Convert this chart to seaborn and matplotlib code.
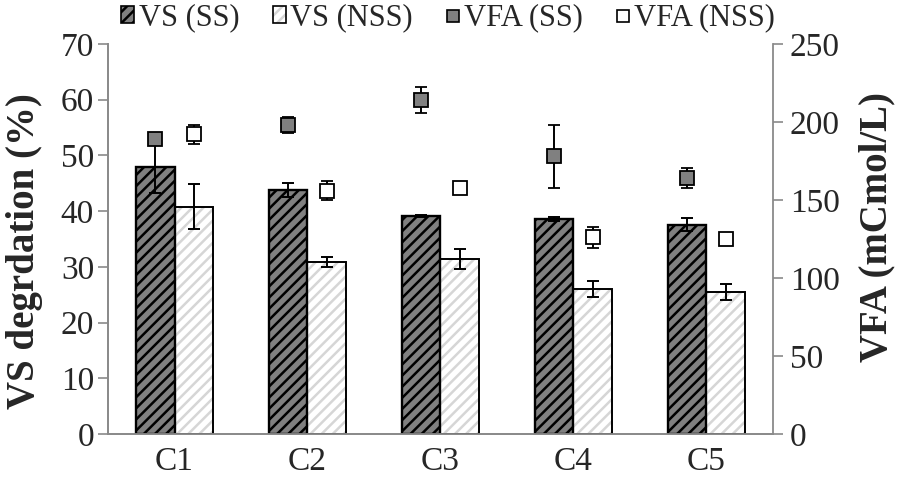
import pandas as pd
import matplotlib
matplotlib.use('Agg')
import matplotlib.pyplot as plt
import seaborn as sns
from matplotlib.patches import Patch, Rectangle
from matplotlib.lines import Line2D
from matplotlib.legend_handler import HandlerTuple

# data
cats = ['C1', 'C2', 'C3', 'C4', 'C5']
vs_ss = [48.0, 43.8, 39.1, 38.6, 37.6]
vs_ss_err = [4.8, 1.2, 0.2, 0.4, 1.1]
vs_nss = [40.8, 30.9, 31.4, 26.0, 25.5]
vs_nss_err = [4.0, 0.9, 1.8, 1.4, 1.4]
vfa_ss = [189, 198, 214, 178, 164]
vfa_ss_err = [2, 5, 8.5, 20, 6.5]
vfa_nss = [192, 156, 158, 126, 125]
vfa_nss_err = [6, 6, 1, 7, 1]

sns.set_style('white')
plt.rcParams['font.family'] = ['Liberation Serif', 'DejaVu Serif']
plt.rcParams['hatch.linewidth'] = 1.8

GRAY = '#8a8a8a'

df = pd.DataFrame({
    'cat': cats * 2,
    'val': vs_ss + vs_nss,
    'series': ['VS (SS)'] * 5 + ['VS (NSS)'] * 5,
})

fig = plt.figure(figsize=(8.98, 4.87), dpi=100)
ax = fig.add_axes([108 / 898, 53 / 487, 665 / 898, 390 / 487])

sns.barplot(data=df, x='cat', y='val', hue='series',
            palette={'VS (SS)': '#808080', 'VS (NSS)': 'white'},
            width=0.576, linewidth=0, errorbar=None, legend=False, ax=ax)

hatch_cols = {0: 'black', 1: '#d6d6d6'}
edge_w = {0: 1.7, 1: 1.4}
centers = []
for i, cont in enumerate(ax.containers):
    xs = []
    for p in cont.patches:
        p.set_hatch('///')
        p.set_edgecolor(hatch_cols[i])
        p.set_linewidth(0)
        ax.add_patch(Rectangle((p.get_x(), p.get_y()), p.get_width(), p.get_height(),
                               fill=False, edgecolor='black', lw=edge_w[i], zorder=3))
        xs.append(p.get_x() + p.get_width() / 2)
    centers.append(xs)

ax.errorbar(centers[0], vs_ss, yerr=vs_ss_err, fmt='none', ecolor='black',
            elinewidth=1.4, capsize=4.5, capthick=1.4, zorder=4)
ax.errorbar(centers[1], vs_nss, yerr=vs_nss_err, fmt='none', ecolor='black',
            elinewidth=1.4, capsize=4.5, capthick=1.4, zorder=4)

ax.set_xlim(-0.5, 4.5)
ax.set_ylim(0, 70)
ax.set_yticks(range(0, 71, 10))
ax.set_xticks([i - 0.5 for i in range(6)], minor=True)
ax.tick_params(axis='x', which='major', length=0, labelsize=24, pad=9)
ax.tick_params(axis='x', which='minor', length=7, width=1.2, color=GRAY, direction='out')
ax.tick_params(axis='y', length=7, width=1.2, color=GRAY, direction='out', labelsize=24, pad=3)
ax.set_xlabel('')
ax.set_ylabel('VS degrdation (%)', fontsize=28, fontweight='bold')
ax.yaxis.set_label_coords(-0.098, 0.47)

ax2 = ax.twinx()
ax2.errorbar(centers[0], vfa_ss, yerr=vfa_ss_err, fmt='s', ms=9.5, mfc='#808080',
             mec='black', mew=1.3, ecolor='black', elinewidth=1.4, capsize=4.5,
             capthick=1.4, zorder=5)
ax2.errorbar(centers[1], vfa_nss, yerr=vfa_nss_err, fmt='s', ms=9.5, mfc='white',
             mec='black', mew=1.3, ecolor='black', elinewidth=1.4, capsize=4.5,
             capthick=1.4, zorder=5)
ax2.set_ylim(0, 250)
ax2.set_yticks(range(0, 251, 50))
ax2.tick_params(axis='y', length=7, width=1.2, color=GRAY, direction='out', labelsize=24, pad=5)
ax2.set_ylabel('VFA (mCmol/L)', fontsize=28, fontweight='bold')
ax2.yaxis.set_label_coords(1.128, 0.53)

for a in (ax, ax2):
    a.spines['top'].set_visible(False)
    for s in ('left', 'bottom', 'right'):
        a.spines[s].set_color(GRAY)
        a.spines[s].set_linewidth(1.3)
ax.spines['right'].set_visible(False)

h_ss = (Patch(facecolor='#808080', edgecolor='black', hatch='///', lw=0),
        Patch(facecolor='none', edgecolor='black', lw=1.2))
h_nss = (Patch(facecolor='white', edgecolor='#d6d6d6', hatch='///', lw=0),
         Patch(facecolor='none', edgecolor='black', lw=1.2))
h_vfa_ss = Line2D([], [], marker='s', ls='none', ms=8, mfc='#808080', mec='black', mew=1.2)
h_vfa_nss = Line2D([], [], marker='s', ls='none', ms=8, mfc='white', mec='black', mew=1.2)
fig.legend([h_ss, h_nss, h_vfa_ss, h_vfa_nss],
           ['VS (SS)', 'VS (NSS)', 'VFA (SS)', 'VFA (NSS)'],
           handler_map={tuple: HandlerTuple(ndivide=1)},
           loc='center', bbox_to_anchor=(448 / 898, 1 - 18 / 487), ncol=4,
           frameon=False, fontsize=22, handlelength=0.42, handleheight=0.45,
           handletextpad=0.15, columnspacing=1.1, borderaxespad=0, borderpad=0)

fig.savefig('out.png', dpi=100)
